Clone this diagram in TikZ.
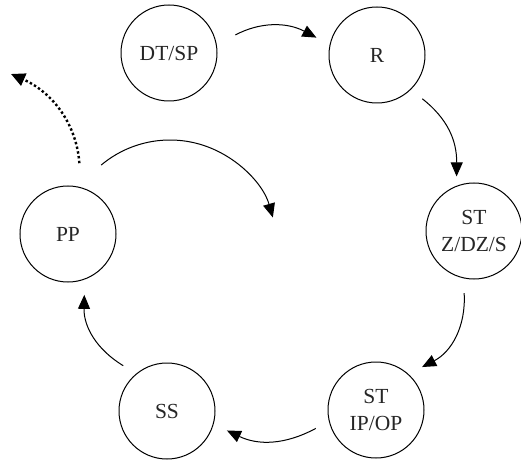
\documentclass[tikz,border=0pt]{standalone}
\usepackage{fontspec}
\setmainfont{Liberation Serif}
\usetikzlibrary{arrows.meta}
\begin{document}
\begin{tikzpicture}[x=1pt,y=1pt,
  state/.style={circle, draw, line width=1pt, minimum size=96pt, inner sep=0pt,
    outer sep=15pt, align=center, font=\fontsize{21.5}{26.5}\selectfont, text=black!85},
  arr/.style={line width=1pt, -{Triangle[length=14pt,width=12pt]}},
  dotarr/.style={line width=2.4pt, dash pattern=on 2.4pt off 2.4pt, -{Triangle[length=14pt,width=13pt]}}]
\useasboundingbox (0,0) rectangle (521,461);
\node[state] (dt) at (169,408) {DT/SP};
\node[state] (r)  at (377,406) {R};
\node[state] (st) at (474,230) {ST\\Z/DZ/S};
\node[state] (ip) at (376,51)  {ST\\IP/OP};
\node[state] (ss) at (167,50)  {SS};
\node[state] (pp) at (68,227)  {PP};
\coordinate (bc) at (170,214);
\coordinate (bs) at ([shift={(130:107pt)}]bc);
\coordinate (dtip) at (11,387);
\draw[arr, shorten <=6pt] (dt.14) to[bend left=28] (r.164);
\draw[arr, shorten >=-6pt] (r.-44) to[bend left=26] (st.106);
\draw[arr] (st.261) to[bend left=33] (ip.43);
\draw[arr] (ip.197) to[bend left=27] (ss.-18);
\draw[arr] (ss.134) to[bend left=30] (pp.-75);
\draw[dotarr, shorten <=9pt] (pp.79) to[bend right=31] (dtip);
\draw[arr] (bs) arc[start angle=130, end angle=16, radius=107pt];
\end{tikzpicture}
\end{document}
